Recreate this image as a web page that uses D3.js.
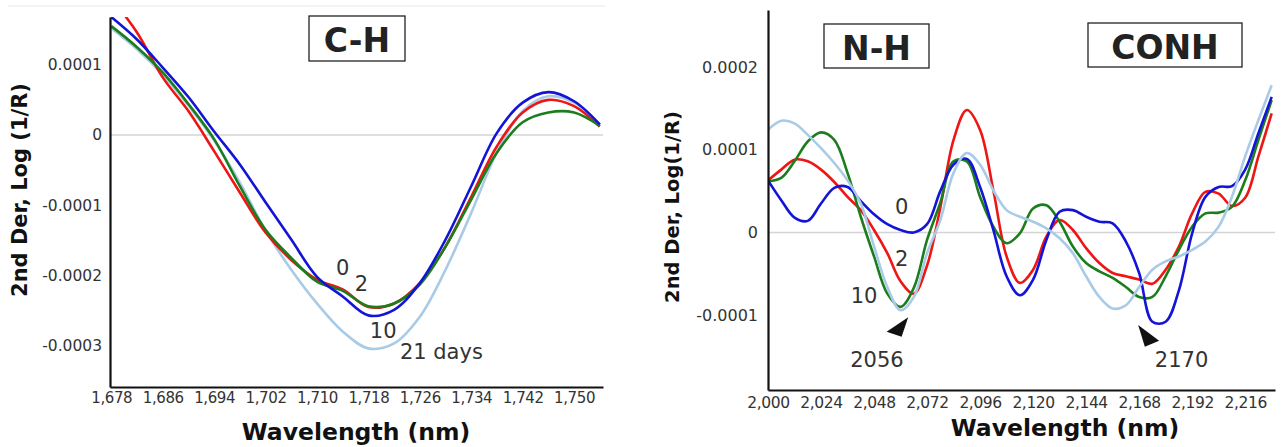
<!DOCTYPE html>
<html lang="en">
<head>
    <meta charset="UTF-8">
    <title>2nd derivative spectra</title>
    <script src="https://cdn.jsdelivr.net/npm/d3@7/dist/d3.min.js"></script>
    <style>
        body { margin: 0; background: #fff; }
        svg text { font-family: "DejaVu Sans", sans-serif; fill: #222; }
        .tick text { fill: #333; }
        .axis-title { font-weight: bold; fill: #111; }
        .note { fill: #333; }
    </style>
</head>
<body>
<script>
    // ---- C-H panel (values in 1e-4 units) ----
    var chWave = d3.range(1678, 1755, 4);
    var chBlue  = [1.68, 1.36, 0.96, 0.54, 0.05, -0.42, -0.96, -1.49, -2.02, -2.30, -2.57, -2.49, -2.11, -1.49, -0.73, 0.03, 0.46, 0.61, 0.48, 0.15];
    var chRed   = [1.95, 1.46, 0.82, 0.34, -0.23, -0.82, -1.39, -1.78, -2.06, -2.20, -2.45, -2.40, -2.11, -1.59, -0.88, -0.16, 0.32, 0.50, 0.41, 0.12];
    var chGreen = [1.55, 1.25, 0.89, 0.44, -0.06, -0.73, -1.35, -1.75, -2.09, -2.22, -2.44, -2.40, -2.13, -1.59, -0.92, -0.25, 0.18, 0.32, 0.32, 0.13];
    var chLight = [1.52, 1.22, 0.86, 0.42, -0.08, -0.68, -1.36, -1.92, -2.40, -2.80, -3.04, -2.97, -2.59, -1.92, -1.11, -0.25, 0.34, 0.55, 0.46, 0.15];
    var chXTicks = d3.range(1678, 1751, 8);
    var chYTicks = [-3, -2, -1, 0, 1];

    // ---- N-H / CONH panel (values in 1e-4 units) ----
    var nhWave = d3.range(2000, 2229, 6);
    var nhBlue  = [0.63, 0.39, 0.18, 0.14, 0.35, 0.54, 0.55, 0.38, 0.22, 0.10, 0.03, 0.00, 0.10, 0.50, 0.82, 0.89, 0.55, 0.03, -0.53, -0.76, -0.57, -0.09, 0.25, 0.27, 0.19, 0.13, 0.11, -0.11, -0.49, -1.08, -1.08, -0.70, -0.01, 0.43, 0.55, 0.56, 0.76, 1.20, 1.64];
    var nhRed   = [0.63, 0.76, 0.88, 0.86, 0.76, 0.61, 0.43, 0.27, 0.03, -0.25, -0.59, -0.74, -0.40, 0.30, 1.12, 1.48, 1.24, 0.51, -0.29, -0.61, -0.45, -0.05, 0.15, 0.03, -0.19, -0.37, -0.49, -0.53, -0.57, -0.62, -0.45, -0.17, 0.23, 0.49, 0.47, 0.32, 0.42, 0.92, 1.44];
    var nhGreen = [0.62, 0.66, 0.86, 1.10, 1.21, 1.12, 0.72, 0.19, -0.29, -0.74, -0.90, -0.67, -0.09, 0.36, 0.86, 0.86, 0.43, 0.07, -0.13, -0.01, 0.29, 0.33, 0.13, -0.17, -0.37, -0.47, -0.55, -0.66, -0.78, -0.78, -0.53, -0.21, 0.07, 0.23, 0.24, 0.31, 0.63, 1.12, 1.60];
    var nhLight = [1.24, 1.35, 1.32, 1.18, 1.02, 0.84, 0.63, 0.35, -0.17, -0.66, -0.94, -0.78, -0.25, 0.15, 0.72, 0.96, 0.82, 0.51, 0.27, 0.19, 0.13, 0.05, -0.07, -0.25, -0.53, -0.78, -0.92, -0.88, -0.66, -0.45, -0.35, -0.29, -0.21, -0.11, 0.07, 0.43, 0.92, 1.36, 1.78];
    var nhXTicks = d3.range(2000, 2217, 24);
    var nhYTicks = [-1, 0, 1, 2];

    var colors = { light: '#a9cbe6', red: '#ee1515', green: '#1c7d1c', blue: '#1414d6' };

    var W = 1284, H = 447;
    var svg = d3.select('body').append('svg').attr('width', W).attr('height', H);

    function fmtY(d) {
        if (d === 0) return '0';
        return (d < 0 ? '-' : '') + (Math.abs(d) * 1e-4).toFixed(4);
    }

    function drawPanel(p) {
        var x = d3.scaleLinear().domain(p.xDomain).range([p.left, p.right]);
        var y = d3.scaleLinear().domain(p.yDomain).range([p.bottom, p.top]);
        var g = svg.append('g');

        g.append('clipPath').attr('id', p.id + '-clip')
            .append('rect').attr('x', p.left).attr('y', p.top)
            .attr('width', p.right - p.left).attr('height', p.bottom - p.top);

        // zero line
        g.append('line')
            .attr('x1', p.left).attr('x2', p.right)
            .attr('y1', y(0)).attr('y2', y(0))
            .attr('stroke', '#d4d4d4').attr('stroke-width', 1.6);

        var line = d3.line()
            .x(function(d) { return x(d[0]); })
            .y(function(d) { return y(d[1]); })
            .curve(d3.curveCatmullRom.alpha(0.5));

        var lines = g.append('g').attr('clip-path', 'url(#' + p.id + '-clip)');
        p.series.forEach(function(s) {
            lines.append('path')
                .datum(p.wave.map(function(w, i) { return [w, s.values[i]]; }))
                .attr('d', line)
                .attr('fill', 'none')
                .attr('stroke', colors[s.color])
                .attr('stroke-width', 2.6)
                .attr('stroke-linejoin', 'round');
        });

        // axes
        var xAxis = d3.axisBottom(x).tickValues(p.xTicks).tickSize(0).tickPadding(p.xPad)
            .tickFormat(d3.format(','));
        g.append('g').attr('class', 'axis')
            .attr('transform', 'translate(0,' + p.bottom + ')')
            .call(xAxis)
            .call(function(a) {
                a.select('.domain').attr('stroke', '#111').attr('stroke-width', 2.2);
                a.selectAll('.tick text').attr('font-size', p.xFont).attr('letter-spacing', -0.4)
                    .attr('font-family', '"DejaVu Sans", sans-serif');
            });

        var yAxis = d3.axisLeft(y).tickValues(p.yTicks).tickSize(0).tickPadding(p.yPad)
            .tickFormat(fmtY);
        g.append('g').attr('class', 'axis')
            .attr('transform', 'translate(' + p.left + ',0)')
            .call(yAxis)
            .call(function(a) {
                a.select('.domain').attr('stroke', '#111').attr('stroke-width', 2.2);
                a.selectAll('.tick text').attr('font-size', p.yFont)
                    .attr('font-family', '"DejaVu Sans", sans-serif');
            });

        // axis titles
        g.append('text').attr('class', 'axis-title')
            .attr('x', p.xTitle[0]).attr('y', p.xTitle[1])
            .attr('text-anchor', 'middle')
            .attr('font-size', 23.5)
            .text('Wavelength (nm)');
        g.append('text').attr('class', 'axis-title')
            .attr('transform', 'translate(' + p.yTitle[0] + ',' + p.yTitle[1] + ') rotate(-90)')
            .attr('text-anchor', 'middle')
            .attr('font-size', p.yTitleFont)
            .text(p.yLabel);

        // boxed labels
        p.boxes.forEach(function(b) {
            g.append('rect')
                .attr('x', b.x).attr('y', b.y).attr('width', b.w).attr('height', b.h)
                .attr('fill', '#fff').attr('stroke', '#222').attr('stroke-width', 1.3);
            g.append('text')
                .attr('x', b.x + b.w / 2).attr('y', b.y + 36)
                .attr('text-anchor', 'middle')
                .attr('font-size', b.size).attr('font-weight', 'bold')
                .text(b.text);
        });

        // day / wavelength notes
        p.notes.forEach(function(n) {
            g.append('text').attr('class', 'note')
                .attr('x', x(n.w)).attr('y', y(n.v))
                .attr('dy', '0.36em')
                .attr('text-anchor', n.anchor || 'middle')
                .attr('font-size', p.noteFont)
                .text(n.text);
        });

        // arrow heads
        (p.arrows || []).forEach(function(a) {
            var cx = x(a.w), cy = y(a.v);
            g.append('path')
                .attr('d', 'M' + a.pts.map(function(q) { return (cx + q[0]) + ',' + (cy + q[1]); }).join('L') + 'Z')
                .attr('fill', '#111');
        });
    }

    // faint frame line above the left chart
    svg.append('line').attr('x1', 8).attr('x2', 605).attr('y1', 6).attr('y2', 6)
        .attr('stroke', '#efefef').attr('stroke-width', 1.5);

    drawPanel({
        id: 'ch',
        wave: chWave,
        xDomain: [1677.8, 1754.5], yDomain: [-3.59, 1.68],
        left: 110, right: 603, top: 17, bottom: 387,
        xTicks: chXTicks, yTicks: chYTicks, xPad: 5, yPad: 8,
        xFont: 15, yFont: 15.5, noteFont: 21, yTitleFont: 21,
        series: [
            { color: 'light', values: chLight },
            { color: 'red', values: chRed },
            { color: 'green', values: chGreen },
            { color: 'blue', values: chBlue }
        ],
        xTitle: [356, 440], yTitle: [27, 190], yLabel: '2nd Der, Log (1/R)',
        boxes: [{ x: 309, y: 16, w: 96, h: 45, text: 'C-H', size: 33 }],
        notes: [
            { w: 1714.0, v: -1.89, text: '0' },
            { w: 1716.9, v: -2.12, text: '2' },
            { w: 1720.3, v: -2.78, text: '10' },
            { w: 1722.9, v: -3.08, text: '21 days', anchor: 'start' }
        ]
    });

    drawPanel({
        id: 'nh',
        wave: nhWave,
        xDomain: [2000, 2229.5], yDomain: [-1.905, 2.69],
        left: 768, right: 1275, top: 10, bottom: 390,
        xTicks: nhXTicks, yTicks: nhYTicks, xPad: 7, yPad: 10,
        xFont: 15.5, yFont: 16, noteFont: 21, yTitleFont: 19.5,
        series: [
            { color: 'red', values: nhRed },
            { color: 'green', values: nhGreen },
            { color: 'blue', values: nhBlue },
            { color: 'light', values: nhLight }
        ],
        xTitle: [1065, 436], yTitle: [679, 207], yLabel: '2nd Der, Log(1/R)',
        boxes: [
            { x: 824, y: 24, w: 105, h: 44, text: 'N-H', size: 33 },
            { x: 1088, y: 23, w: 154, h: 44, text: 'CONH', size: 33 }
        ],
        notes: [
            { w: 2060.5, v: 0.31, text: '0' },
            { w: 2060.5, v: -0.31, text: '2' },
            { w: 2043.5, v: -0.76, text: '10' },
            { w: 2049.3, v: -1.53, text: '2056' },
            { w: 2187.2, v: -1.54, text: '2170' }
        ],
        arrows: [
            { w: 2056, v: -1.0, pts: [[16.5, 2], [-5.1, 16.5], [9.9, 21.5]] },
            { w: 2170, v: -1.1, pts: [[-5.4, 1.5], [1.3, 23.2], [15.6, 17.2]] }
        ]
    });
</script>
</body>
</html>
